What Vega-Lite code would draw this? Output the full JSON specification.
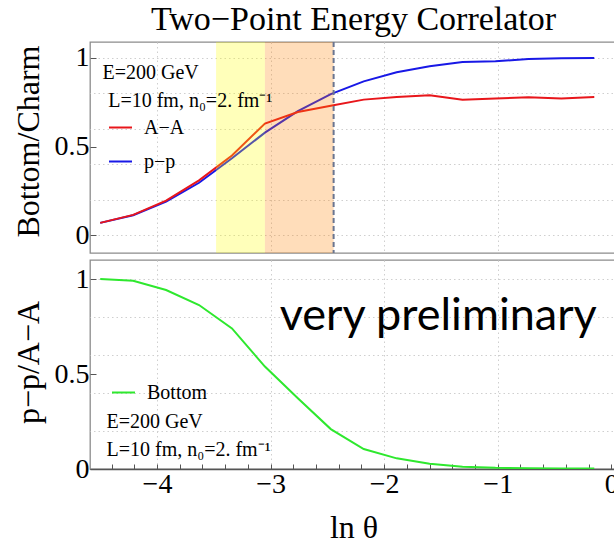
{
  "$schema": "https://vega.github.io/schema/vega-lite/v6.json",
  "padding": {"left": 11, "top": 2, "right": 0, "bottom": 0},
  "background": "white",
  "spacing": 4,
  "resolve": {"scale": {"color": "independent"}, "legend": {"color": "independent"}},
  "config": {
    "view": {"stroke": "#8c8c8c", "strokeWidth": 1.3},
    "font": "Liberation Serif",
    "axis": {
      "labelFont": "Liberation Serif",
      "titleFont": "Liberation Serif",
      "labelColor": "black",
      "titleColor": "black",
      "titleFontWeight": "normal",
      "gridColor": "#cfcfcf",
      "gridDash": [1.5, 3],
      "gridWidth": 1,
      "tickColor": "#555555",
      "domain": false,
      "labelOverlap": false
    },
    "legend": {
      "orient": "none",
      "title": null,
      "symbolType": "stroke",
      "symbolSize": 529,
      "symbolStrokeWidth": 2,
      "labelFont": "Liberation Serif",
      "labelFontSize": 20,
      "labelColor": "black",
      "labelOffset": 11,
      "rowPadding": 11,
      "padding": 0
    }
  },
  "datasets": {
    "curves": [
      {"series": "A−A", "x": -4.5, "y": 0.07},
      {"series": "A−A", "x": -4.21, "y": 0.115},
      {"series": "A−A", "x": -3.92, "y": 0.195},
      {"series": "A−A", "x": -3.63, "y": 0.31},
      {"series": "A−A", "x": -3.34, "y": 0.45},
      {"series": "A−A", "x": -3.05, "y": 0.63},
      {"series": "A−A", "x": -2.76, "y": 0.695},
      {"series": "A−A", "x": -2.47, "y": 0.73},
      {"series": "A−A", "x": -2.18, "y": 0.765},
      {"series": "A−A", "x": -1.89, "y": 0.78},
      {"series": "A−A", "x": -1.6, "y": 0.79},
      {"series": "A−A", "x": -1.31, "y": 0.765},
      {"series": "A−A", "x": -1.02, "y": 0.772},
      {"series": "A−A", "x": -0.73, "y": 0.778},
      {"series": "A−A", "x": -0.44, "y": 0.772},
      {"series": "A−A", "x": -0.15, "y": 0.78},
      {"series": "p−p", "x": -4.5, "y": 0.07},
      {"series": "p−p", "x": -4.21, "y": 0.113},
      {"series": "p−p", "x": -3.92, "y": 0.19},
      {"series": "p−p", "x": -3.63, "y": 0.296},
      {"series": "p−p", "x": -3.34, "y": 0.434},
      {"series": "p−p", "x": -3.05, "y": 0.579},
      {"series": "p−p", "x": -2.76, "y": 0.7},
      {"series": "p−p", "x": -2.47, "y": 0.796},
      {"series": "p−p", "x": -2.18, "y": 0.868},
      {"series": "p−p", "x": -1.89, "y": 0.919},
      {"series": "p−p", "x": -1.6, "y": 0.953},
      {"series": "p−p", "x": -1.31, "y": 0.977},
      {"series": "p−p", "x": -1.02, "y": 0.981},
      {"series": "p−p", "x": -0.73, "y": 0.994},
      {"series": "p−p", "x": -0.44, "y": 0.998},
      {"series": "p−p", "x": -0.15, "y": 1.0},
      {"series": "Bottom", "x": -4.5, "y": 1.0},
      {"series": "Bottom", "x": -4.21, "y": 0.991},
      {"series": "Bottom", "x": -3.92, "y": 0.942},
      {"series": "Bottom", "x": -3.63, "y": 0.863},
      {"series": "Bottom", "x": -3.34, "y": 0.74},
      {"series": "Bottom", "x": -3.05, "y": 0.539},
      {"series": "Bottom", "x": -2.76, "y": 0.372},
      {"series": "Bottom", "x": -2.47, "y": 0.21},
      {"series": "Bottom", "x": -2.18, "y": 0.105},
      {"series": "Bottom", "x": -1.89, "y": 0.056},
      {"series": "Bottom", "x": -1.6, "y": 0.028},
      {"series": "Bottom", "x": -1.31, "y": 0.012},
      {"series": "Bottom", "x": -1.02, "y": 0.006},
      {"series": "Bottom", "x": -0.73, "y": 0.004},
      {"series": "Bottom", "x": -0.44, "y": 0.003},
      {"series": "Bottom", "x": -0.15, "y": 0.003}
    ],
    "bands": [
      {"zone": "yellow", "x": -3.48, "xe": -3.05},
      {"zone": "orange", "x": -3.05, "xe": -2.445}
    ],
    "cut": [{"x": -2.445}],
    "notesTop": [
      {"x": -4.48, "y": 0.915, "label": "E=200 GeV"},
      {"x": -4.43, "y": 0.755, "label": "L=10 fm, n₀=2. fm⁻¹"}
    ],
    "notesBottom": [
      {"x": -4.445, "y": 0.247, "label": "E=200 GeV"},
      {"x": -4.445, "y": 0.1, "label": "L=10 fm, n₀=2. fm⁻¹"}
    ],
    "stamp": [{"x": -1.524, "y": 0.73, "label": "very preliminary"}]
  },
  "vconcat": [
    {
      "width": 527,
      "height": 211,
      "title": {
        "text": "Two−Point Energy Correlator",
        "font": "Liberation Serif",
        "fontSize": 34,
        "fontWeight": "normal",
        "color": "black",
        "anchor": "middle",
        "offset": 4
      },
      "resolve": {"axis": {"y": "independent"}},
      "encoding": {
        "x": {
          "field": "x",
          "type": "quantitative",
          "title": null,
          "scale": {"domain": [-4.59, 0.05], "nice": false, "zero": false},
          "axis": {
            "values": [-4, -3, -2, -1],
            "labels": false,
            "ticks": false,
            "grid": true
          }
        }
      },
      "layer": [
        {
          "data": {"name": "curves"},
          "transform": [{"filter": "datum.series == 'p−p'"}],
          "mark": {"type": "line", "strokeWidth": 2, "clip": true},
          "encoding": {
            "y": {
              "field": "y",
              "type": "quantitative",
              "title": "Bottom/Charm",
              "scale": {"domain": [-0.1, 1.09], "nice": false, "zero": false},
              "axis": {
                "orient": "left",
                "values": [0, 0.5, 1],
                "format": "~g",
                "grid": false,
                "labelFontSize": 28,
                "labelPadding": 7,
                "tickSize": -6,
                "titleFontSize": 32,
                "titleAngle": -90,
                "titleBaseline": "alphabetic",
                "titleAlign": "center",
                "titleX": -52,
                "titleY": 99
              }
            },
            "color": {
              "field": "series",
              "type": "nominal",
              "scale": {"domain": ["A−A", "p−p"], "range": ["#e8161b", "#1818e6"]},
              "legend": {"legendX": 18, "legendY": 73}
            }
          }
        },
        {
          "data": {"name": "curves"},
          "transform": [{"filter": "datum.series == 'A−A'"}],
          "mark": {"type": "line", "strokeWidth": 2, "clip": true},
          "encoding": {
            "y": {
              "field": "y",
              "type": "quantitative",
              "title": "Bottom/Charm",
              "scale": {"domain": [-0.1, 1.09], "nice": false, "zero": false},
              "axis": {
                "orient": "right",
                "values": [0, 0.2, 0.4, 0.6, 0.8, 1],
                "grid": true,
                "labels": false,
                "ticks": false,
                "domain": false,
                "title": null
              }
            },
            "color": {
              "field": "series",
              "type": "nominal",
              "scale": {"domain": ["A−A", "p−p"], "range": ["#e8161b", "#1818e6"]},
              "legend": {"legendX": 18, "legendY": 73}
            }
          }
        },
        {
          "data": {"name": "bands"},
          "mark": {"type": "rect", "fillOpacity": 0.27},
          "encoding": {
            "x2": {"field": "xe"},
            "fill": {
              "field": "zone",
              "type": "nominal",
              "scale": {"domain": ["yellow", "orange"], "range": ["#ffff00", "#ff8000"]},
              "legend": null
            }
          }
        },
        {
          "data": {"name": "cut"},
          "mark": {"type": "rule", "strokeDash": [5, 3], "strokeWidth": 2, "color": "#6a7590"},
          "encoding": {}
        },
        {
          "data": {"name": "notesTop"},
          "mark": {"type": "text", "align": "left", "baseline": "middle", "font": "Liberation Serif", "fontSize": 20, "color": "black"},
          "encoding": {
            "y": {
              "field": "y",
              "type": "quantitative",
              "scale": {"domain": [-0.1, 1.09], "nice": false, "zero": false},
              "axis": null
            },
            "text": {"field": "label", "type": "nominal"}
          }
        }
      ]
    },
    {
      "width": 527,
      "height": 209,
      "resolve": {"axis": {"y": "independent"}},
      "encoding": {
        "x": {
          "field": "x",
          "type": "quantitative",
          "title": "ln θ",
          "scale": {"domain": [-4.59, 0.05], "nice": false, "zero": false},
          "axis": {
            "values": [-4.4, -4.2, -4, -3.8, -3.6, -3.4, -3.2, -3, -2.8, -2.6, -2.4, -2.2, -2, -1.8, -1.6, -1.4, -1.2, -1, -0.8, -0.6, -0.4, -0.2, 0],
            "labelExpr": "datum.value == 0 ? '0' : (abs(datum.value - round(datum.value)) < 0.000001 ? '−' + abs(round(datum.value)) : '')",
            "labelOverlap": false,
            "labelFontSize": 28,
            "labelPadding": 6,
            "labelFlush": false,
            "tickSize": -5,
            "gridOpacity": {"condition": {"test": "abs(datum.value - round(datum.value)) < 0.000001 && datum.value != 0", "value": 1}, "value": 0},
            "domain": true,
            "domainColor": "#555555",
            "domainWidth": 1.3,
            "titleFontSize": 32,
            "titleBaseline": "alphabetic",
            "titleY": 68
          }
        }
      },
      "layer": [
        {
          "data": {"name": "curves"},
          "transform": [{"filter": "datum.series == 'Bottom'"}],
          "mark": {"type": "line", "strokeWidth": 2, "clip": true},
          "encoding": {
            "y": {
              "field": "y",
              "type": "quantitative",
              "title": "p−p/A−A",
              "scale": {"domain": [0, 1.1], "nice": false, "zero": false},
              "axis": {
                "orient": "left",
                "values": [0, 0.5, 1],
                "format": "~g",
                "grid": false,
                "labelFontSize": 28,
                "labelPadding": 7,
                "tickSize": -6,
                "titleFontSize": 32,
                "titleAngle": -90,
                "titleBaseline": "alphabetic",
                "titleAlign": "center",
                "titleX": -52,
                "titleY": 102
              }
            },
            "color": {
              "field": "series",
              "type": "nominal",
              "scale": {"domain": ["Bottom"], "range": ["#2ee82e"]},
              "legend": {"legendX": 21, "legendY": 120}
            }
          }
        },
        {
          "data": {"name": "notesBottom"},
          "mark": {"type": "text", "align": "left", "baseline": "middle", "font": "Liberation Serif", "fontSize": 20, "color": "black"},
          "encoding": {
            "y": {
              "field": "y",
              "type": "quantitative",
              "scale": {"domain": [0, 1.1], "nice": false, "zero": false},
              "axis": {
                "orient": "right",
                "values": [0.2, 0.4, 0.6, 0.8, 1],
                "grid": true,
                "labels": false,
                "ticks": false,
                "domain": false,
                "title": null
              }
            },
            "text": {"field": "label", "type": "nominal"}
          }
        },
        {
          "data": {"name": "stamp"},
          "mark": {"type": "text", "align": "center", "baseline": "alphabetic", "font": "Lato", "fontSize": 45, "color": "black"},
          "encoding": {
            "y": {
              "field": "y",
              "type": "quantitative",
              "scale": {"domain": [0, 1.1], "nice": false, "zero": false},
              "axis": null
            },
            "text": {"field": "label", "type": "nominal"}
          }
        }
      ]
    }
  ]
}
